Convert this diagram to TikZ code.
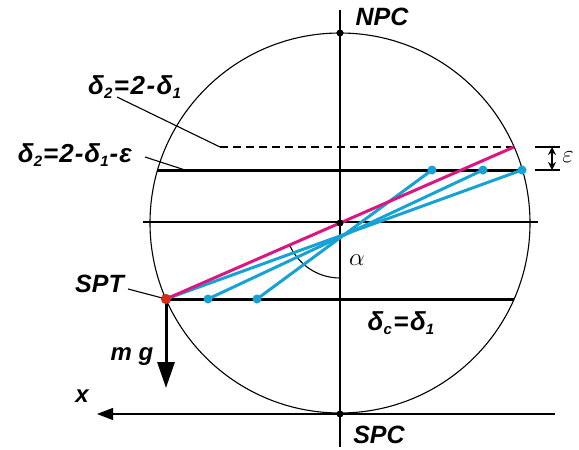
\documentclass[tikz,border=0pt]{standalone}
\usepackage{fontspec}
\setmainfont{Liberation Sans}
\usetikzlibrary{arrows.meta}
\definecolor{mag}{RGB}{220,22,128}
\definecolor{cy}{RGB}{22,162,212}
\definecolor{rd}{RGB}{214,45,25}
\tikzset{
  lbl/.style={font=\fontsize{25}{27}\selectfont\bfseries\itshape, inner sep=0pt},
  dlbl/.style={font=\fontsize{26}{28}\selectfont\bfseries\itshape, inner sep=0pt},
  mlbl/.style={font=\fontsize{24}{26}\selectfont\bfseries\itshape, inner sep=0pt},
  axisline/.style={line width=1.1pt},
  heavy/.style={line width=3pt},
  colline/.style={line width=3pt},
  dotb/.style={circle, fill=black, inner sep=0pt, minimum size=7pt},
  dotc/.style={circle, fill=cy, inner sep=0pt, minimum size=9pt},
  dotr/.style={circle, fill=rd, inner sep=0pt, minimum size=10pt},
  leader/.style={line width=1.1pt},
}
\newcommand{\sbs}[1]{\raisebox{-0.25ex}{\fontsize{15}{15}\selectfont #1}}
\begin{document}
\begin{tikzpicture}[x=1pt,y=-1pt]
\useasboundingbox (0,0) rectangle (579,450);
% axes and circle
\coordinate (vt) at (340,10);
\coordinate (vb) at (340,447);
\coordinate (hl) at (143,222);
\coordinate (hr) at (538,222);
\coordinate (xr) at (555,414);
\coordinate (xl) at (97,414);
\draw[line width=1.1pt] (340,223) circle[radius=190];
\draw[axisline] (vt) -- (vb);
\draw[axisline] (hl) -- (hr);
\draw[axisline, -{Triangle[length=16pt,width=12pt]}] (xr) -- (xl);
% angle arc
\coordinate (Cc) at (340,223);
\draw[axisline] (Cc) ++(156.1:55) arc[start angle=156.1, end angle=90, radius=55];
% horizontal levels
\coordinate (D1) at (220,147);
\coordinate (D2) at (514,147);
\coordinate (U1) at (157,170);
\coordinate (U2) at (523,170);
\coordinate (L2) at (514,299);
\draw[axisline, dash pattern=on 8pt off 5pt] (D1) -- (D2);
\draw[heavy] (U1) -- (U2);
% SPT
\node[dotr] (SPT) at (166,299) {};
\draw[heavy] (SPT.center) -- (L2);
% blue dots and lines
\node[dotc] (b1) at (208,299) {};
\node[dotc] (b2) at (257,299) {};
\node[dotc] (t3) at (432,170) {};
\node[dotc] (t2) at (483,170) {};
\node[dotc] (t1) at (522,170) {};
\draw[colline, cy] (SPT.center) -- (t1.center);
\draw[colline, cy] (b1.center) -- (t2.center);
\draw[colline, cy] (b2.center) -- (t3.center);
\draw[colline, mag] (SPT.center) -- (D2);
% mg arrow
\coordinate (mgtip) at (166,388);
\draw[line width=3pt, -{Triangle[length=26pt,width=17pt]}] (SPT.center) -- (mgtip);
% black dots
\node[dotb] (NPCd) at (340,33) {};
\node[dotb] (Cd) at (340,223) {};
\node[dotb] (SPCd) at (340,414) {};
% epsilon marker
\coordinate (e1a) at (535,147); \coordinate (e1b) at (560,147);
\coordinate (e2a) at (535,170); \coordinate (e2b) at (560,170);
\coordinate (eat) at (552,147); \coordinate (eab) at (552,170);
\draw[axisline] (e1a) -- (e1b);
\draw[axisline] (e2a) -- (e2b);
\draw[line width=1.5pt, {Stealth[length=8pt,width=8pt]}-{Stealth[length=8pt,width=8pt]}] (eat) -- (eab);
\node[font=\fontsize{28}{28}\selectfont, inner sep=0pt] (epsl) at (568,157) {$\varepsilon$};
% labels
\node[lbl] (npc) at (382,17) {NPC};
\node[lbl] (spc) at (379,435) {SPC};
\node[lbl, anchor=east] (spt) at (124,284) {SPT};
\node[mlbl] (mg) at (132,357) {m g};
\node[mlbl] (xlab) at (82,396) {x};
\node[font=\fontsize{27}{27}\selectfont, inner sep=0pt] (alpha) at (357,260) {$\alpha$};
\node[dlbl] (dc) at (401,323) {δ\sbs{c}\kern1.5pt=\kern1.5ptδ\sbs{1}};
\node[dlbl, anchor=west] (d2a) at (88,87) {δ\sbs{2}\kern1.5pt=\kern1.5pt2\kern1.5pt-\kern1.5ptδ\sbs{1}};
\node[dlbl, anchor=east] (d2b) at (132,155) {δ\sbs{2}\kern1pt=\kern1pt2\kern1pt-\kern1ptδ\sbs{1}\kern1pt-\kern1ptε};
% leaders
\coordinate (la1) at (117,97);
\coordinate (lb1) at (145,157);
\coordinate (lb2) at (185,170);
\coordinate (lc1) at (128,289);
\draw[leader] (la1) -- (D1);
\draw[leader] (lb1) -- (lb2);
\draw[leader] (lc1) -- (SPT.center);
\node[dotr] at (SPT) {};
\end{tikzpicture}
\end{document}
